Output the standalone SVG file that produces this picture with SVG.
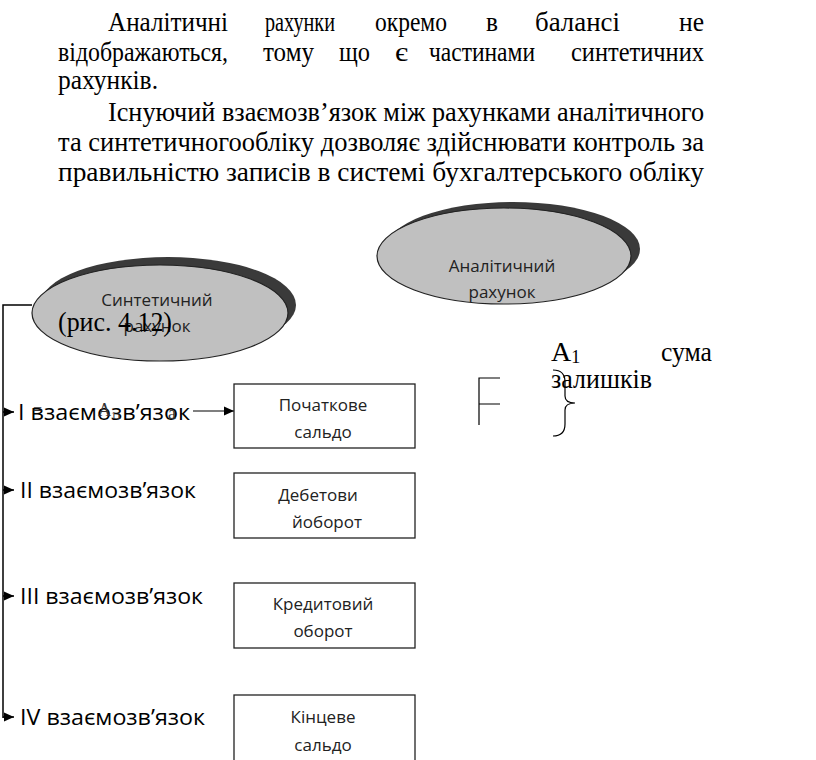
<svg xmlns="http://www.w3.org/2000/svg" width="816" height="760" viewBox="0 0 816 760">
<defs>
<style>
.p{font-family:"Liberation Serif","Times New Roman",serif;font-size:28px;fill:#000}
.s{font-family:"Open Sans","Noto Sans",sans-serif;font-size:17px;fill:#222}
.l{font-family:"Open Sans","Noto Sans",sans-serif;font-size:22px;fill:#000}
.box{fill:#fff;stroke:#222;stroke-width:1.3}
.ell{fill:#c0c0c0;stroke:#222;stroke-width:1.2}
.sh{fill:#3a3a3a}
.ln{stroke:#000;stroke-width:1.5;fill:none}
</style>
<marker id="ar" markerWidth="12" markerHeight="12" refX="10" refY="6" orient="auto" markerUnits="userSpaceOnUse">
<path d="M0,1.5 L10,6 L0,10.5 Z" fill="#000"/>
</marker>
</defs>
<rect width="816" height="760" fill="#fff"/>

<g id="paragraph">
<text class="p" x="108" y="31" textLength="120" lengthAdjust="spacingAndGlyphs">Аналітичні</text>
<text class="p" x="265" y="31" textLength="70" lengthAdjust="spacingAndGlyphs">рахунки</text>
<text class="p" x="375" y="31" textLength="72" lengthAdjust="spacingAndGlyphs">окремо</text>
<text class="p" x="486" y="31" textLength="12" lengthAdjust="spacingAndGlyphs">в</text>
<text class="p" x="535" y="31" textLength="85" lengthAdjust="spacingAndGlyphs">балансі</text>
<text class="p" x="679" y="31" textLength="25" lengthAdjust="spacingAndGlyphs">не</text>
<text class="p" x="58" y="61" textLength="170" lengthAdjust="spacingAndGlyphs">відображаються,</text>
<text class="p" x="263" y="61" textLength="51" lengthAdjust="spacingAndGlyphs">тому</text>
<text class="p" x="339" y="61" textLength="31" lengthAdjust="spacingAndGlyphs">що</text>
<text class="p" x="395" y="61" textLength="13" lengthAdjust="spacingAndGlyphs">є</text>
<text class="p" x="429" y="61" textLength="106" lengthAdjust="spacingAndGlyphs">частинами</text>
<text class="p" x="571" y="61" textLength="133" lengthAdjust="spacingAndGlyphs">синтетичних</text>
<text class="p" x="58" y="89" textLength="100" lengthAdjust="spacingAndGlyphs">рахунків.</text>
<text class="p" x="108" y="121" textLength="596" lengthAdjust="spacingAndGlyphs">Існуючий взаємозв’язок між рахунками аналітичного</text>
<text class="p" x="58" y="151" textLength="646" lengthAdjust="spacingAndGlyphs">та синтетичногообліку дозволяє здійснювати контроль за</text>
<text class="p" x="58" y="181" textLength="646" lengthAdjust="spacingAndGlyphs">правильністю  записів  в  системі бухгалтерського  обліку</text>
</g>

<g id="connectors">
<polyline class="ln" points="32,305 3,305 3,718"/>
<line class="ln" x1="3" y1="412" x2="14" y2="412" marker-end="url(#ar)"/>
<line class="ln" x1="3" y1="490" x2="14" y2="490" marker-end="url(#ar)"/>
<line class="ln" x1="3" y1="596" x2="14" y2="596" marker-end="url(#ar)"/>
<line class="ln" x1="3" y1="717" x2="14" y2="717" marker-end="url(#ar)"/>
<line x1="193" y1="411" x2="234" y2="411" stroke="#000" stroke-width="1.2" marker-end="url(#ar)"/>
</g>

<g id="synthetic">
<ellipse class="sh" cx="168" cy="305" rx="128" ry="48"/>
<ellipse class="ell" cx="160" cy="313" rx="128" ry="48"/>
<text class="s" x="157" y="306" text-anchor="middle">Синтетичний</text>
<text class="s" x="157" y="332" text-anchor="middle">рахунок</text>
</g>

<g id="analytic">
<ellipse class="sh" cx="513" cy="249" rx="127" ry="47"/>
<ellipse class="ell" cx="504" cy="256" rx="127" ry="48"/>
<text class="s" x="502" y="272" text-anchor="middle">Аналітичний</text>
<text class="s" x="502" y="298" text-anchor="middle">рахунок</text>
</g>

<text class="p" x="58" y="331" textLength="114" lengthAdjust="spacingAndGlyphs">(рис. 4.12)</text>

<g id="label1">
<text class="l" x="18" y="420" textLength="172" lengthAdjust="spacingAndGlyphs">I взаємозв’язок</text>
<text font-family="Liberation Serif,serif" font-size="16" fill="#333" x="33" y="415">=</text>
<text font-family="Liberation Serif,serif" font-size="18" fill="#333" x="98" y="416">A<tspan font-size="11" dy="3">11</tspan></text>
<text font-family="Liberation Serif,serif" font-size="18" fill="#333" x="168" y="419">a</text>
</g>
<text id="label2" class="l" x="20" y="498" textLength="176" lengthAdjust="spacingAndGlyphs">II взаємозв’язок</text>
<text id="label3" class="l" x="20" y="604" textLength="183" lengthAdjust="spacingAndGlyphs">III взаємозв’язок</text>
<text id="label4" class="l" x="20" y="725" textLength="185" lengthAdjust="spacingAndGlyphs">IV взаємозв’язок</text>

<g id="box1">
<rect class="box" x="234" y="384" width="181" height="64"/>
<text class="s" x="323" y="411" text-anchor="middle">Початкове</text>
<text class="s" x="323" y="438" text-anchor="middle">сальдо</text>
</g>
<g id="box2">
<rect class="box" x="234" y="473" width="181" height="65"/>
<text class="s" x="318" y="501" text-anchor="middle">Дебетови</text>
<text class="s" x="327" y="528" text-anchor="middle">йоборот</text>
</g>
<g id="box3">
<rect class="box" x="234" y="583" width="181" height="65"/>
<text class="s" x="323" y="610" text-anchor="middle">Кредитовий</text>
<text class="s" x="323" y="637" text-anchor="middle">оборот</text>
</g>
<g id="box4">
<rect class="box" x="234" y="695" width="181" height="80"/>
<text class="s" x="323" y="723" text-anchor="middle">Кінцеве</text>
<text class="s" x="323" y="751" text-anchor="middle">сальдо</text>
</g>

<g id="sum">
<text class="p" x="551" y="361">А<tspan font-size="18" dy="2">1</tspan></text>
<text class="p" x="661" y="361" textLength="51" lengthAdjust="spacingAndGlyphs">сума</text>
<text class="p" x="551" y="388" textLength="101" lengthAdjust="spacingAndGlyphs">залишків</text>
<path d="M500,378 H479 V425 M479,404 H500" stroke="#000" stroke-width="1.2" fill="none"/>
<path d="M553,370 Q565,370 565,382 V396 Q565,403 575,403 Q565,403 565,410 V424 Q565,436 553,436" stroke="#000" stroke-width="1.2" fill="none"/>
</g>
</svg>
